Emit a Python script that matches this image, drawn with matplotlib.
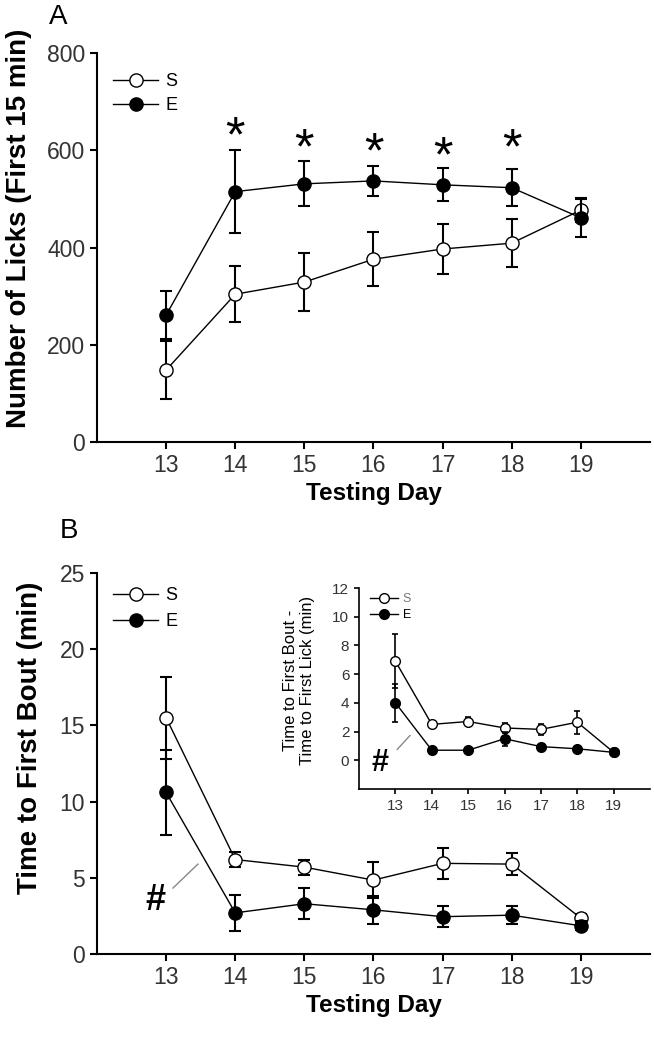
import matplotlib
matplotlib.use("Agg")
import matplotlib.pyplot as plt
from matplotlib.lines import Line2D
import numpy as np

plt.rcParams['font.family'] = ['Liberation Sans', 'DejaVu Sans']

days = [13, 14, 15, 16, 17, 18, 19]

# panel A: number of licks (first 15 min)
licks_s = [148, 304, 329, 376, 397, 409, 477]
licks_s_err = [60, 58, 60, 56, 52, 50, 25]
licks_e = [261, 515, 531, 537, 529, 523, 461]
licks_e_err = [50, 85, 46, 31, 34, 38, 39]
star_days = [14, 15, 16, 17, 18]
star_y = [624, 599, 591, 583, 599]

# panel B: time to first bout (min)
bout_s = [15.5, 6.2, 5.7, 4.85, 5.95, 5.9, 2.35]
bout_s_err = [2.7, 0.5, 0.5, 1.2, 1.0, 0.7, 0.3]
bout_e = [10.6, 2.7, 3.3, 2.9, 2.45, 2.55, 1.85]
bout_e_err = [2.8, 1.2, 1.0, 0.9, 0.7, 0.6, 0.3]

# inset: time to first bout - time to first lick (min)
diff_s = [6.9, 2.5, 2.7, 2.25, 2.15, 2.65, 0.55]
diff_s_err = [1.9, 0.15, 0.3, 0.35, 0.4, 0.8, 0.1]
diff_e = [4.0, 0.7, 0.7, 1.5, 0.95, 0.8, 0.55]
diff_e_err = [1.3, 0.15, 0.15, 0.5, 0.2, 0.15, 0.1]


def draw_pair(ax, s, s_err, e, e_err, ms, cap, elw):
    ax.errorbar(days, s, yerr=s_err, fmt='o-', color='black', mfc='white',
                mec='black', ms=ms, lw=1, elinewidth=elw, capsize=cap,
                capthick=elw, zorder=3)
    ax.errorbar(days, e, yerr=e_err, fmt='o-', color='black', mfc='black',
                mec='black', ms=ms, lw=1, elinewidth=elw, capsize=cap,
                capthick=elw, zorder=4)


def add_legend(ax, ms, size, hl, y, spacing, s_color='black'):
    handles = [Line2D([], [], color='black', lw=1, marker='o', mfc='white',
                      mec='black', ms=ms),
               Line2D([], [], color='black', lw=1, marker='o', mfc='black',
                      mec='black', ms=ms)]
    leg = ax.legend(handles, ['S', 'E'], loc='upper left',
                    bbox_to_anchor=(0.0, y), frameon=False, fontsize=size,
                    handlelength=hl, handletextpad=0.4, labelspacing=spacing)
    leg.get_texts()[0].set_color(s_color)


def style_axes(ax, lw, tick_len, size):
    for side in ['top', 'right']:
        ax.spines[side].set_visible(False)
    for side in ['left', 'bottom']:
        ax.spines[side].set_linewidth(lw)
    ax.tick_params(direction='out', length=tick_len, width=lw,
                   labelsize=size, colors='black')
    for lab in ax.get_xticklabels() + ax.get_yticklabels():
        lab.set_color('#333333')


fig = plt.figure(figsize=(6.54, 10.5), dpi=100)

# ---- panel A ----
axA = fig.add_axes([0.1483, 0.579, 0.8456, 0.3705])
draw_pair(axA, licks_s, licks_s_err, licks_e, licks_e_err, 9.5, 4.5, 1.5)
axA.set_xlim(12, 20)
axA.set_ylim(0, 800)
axA.set_xticks(days)
axA.set_yticks([0, 200, 400, 600, 800])
style_axes(axA, 1.5, 5, 16.5)
axA.set_xlabel('Testing Day', fontsize=17.5, fontweight='bold')
axA.set_ylabel('Number of Licks (First 15 min)', fontsize=20, fontweight='bold')
axA.yaxis.set_label_coords(-0.117, 0.55)
for d, y in zip(star_days, star_y):
    axA.text(d, y, '*', fontsize=36, ha='center', va='center')
add_legend(axA, 9.5, 13, 2.5, 0.99, 0.4)

# ---- panel B ----
axB = fig.add_axes([0.1483, 0.0914, 0.8456, 0.3629])
draw_pair(axB, bout_s, bout_s_err, bout_e, bout_e_err, 9.5, 4.5, 1.5)
axB.set_xlim(12, 20)
axB.set_ylim(0, 25)
axB.set_xticks(days)
axB.set_yticks([0, 5, 10, 15, 20, 25])
style_axes(axB, 1.5, 5, 16.5)
axB.set_xlabel('Testing Day', fontsize=17.5, fontweight='bold')
axB.set_ylabel('Time to First Bout (min)', fontsize=20, fontweight='bold')
axB.yaxis.set_label_coords(-0.098, 0.567)
axB.plot([13.10, 13.46], [4.33, 5.9], color='#888888', lw=1)
axB.text(12.84, 3.5, '#', fontsize=26, fontweight='bold', ha='center', va='center')
add_legend(axB, 9.5, 13, 2.5, 1.005, 0.5)

# ---- inset ----
axI = fig.add_axes([0.549, 0.2486, 0.445, 0.1914])
draw_pair(axI, diff_s, diff_s_err, diff_e, diff_e_err, 7, 2.5, 1.2)
axI.set_xlim(12, 20)
axI.set_ylim(-2, 12)
axI.set_xticks(days)
axI.set_yticks([0, 2, 4, 6, 8, 10, 12])
style_axes(axI, 1.2, 3.5, 11)
axI.set_ylabel('Time to First Bout -\nTime to First Lick (min)', fontsize=12)
axI.yaxis.set_label_coords(-0.15, 0.54)
axI.plot([13.05, 13.4], [0.76, 1.72], color='#888888', lw=1)
axI.text(12.58, -0.2, '#', fontsize=22, fontweight='bold', ha='center', va='center')
add_legend(axI, 7, 9, 2.2, 1.03, 0.3, s_color='#777777')

fig.text(58 / 654, 1 - 17 / 1050, 'A', fontsize=20, ha='center', va='center')
fig.text(69 / 654, 1 - 531 / 1050, 'B', fontsize=20, ha='center', va='center')

fig.savefig('out.png', dpi=100)
